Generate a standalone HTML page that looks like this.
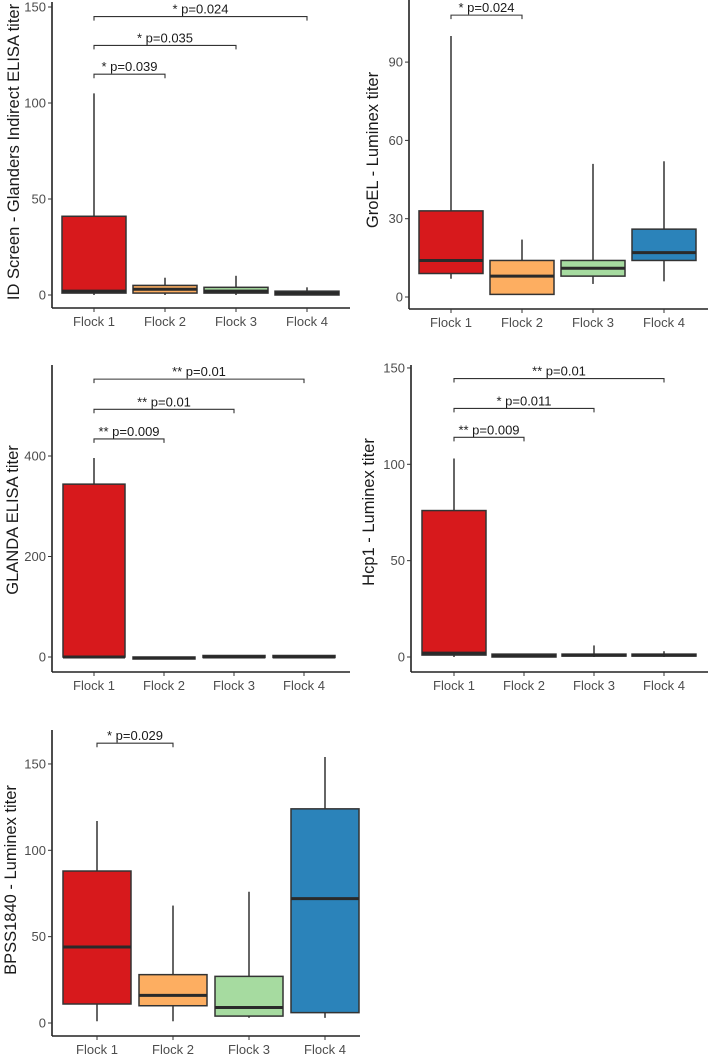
<!DOCTYPE html>
<html><head><meta charset="utf-8">
<style>
body{margin:0;background:#fff;}
svg{display:block;font-family:"Liberation Sans",Arial,sans-serif;}
.tick{fill:#4d4d4d;font-size:13px;}
.ytitle{fill:#1a1a1a;font-size:16.5px;}
.ann{fill:#1a1a1a;font-size:13px;}
</style></head>
<body>
<svg id="chart" width="708" height="1055" viewBox="0 0 708 1055" xmlns="http://www.w3.org/2000/svg"></svg>
<script>
const categories = ["Flock 1","Flock 2","Flock 3","Flock 4"];
const colors = ["#d7191c","#fdae61","#a6dba0","#2b83ba"];

// Panel 1: ID Screen
const p1Min = [0,0,0,0];
const p1Q1 = [1,1,1,0];
const p1Med = [2,3,2,1];
const p1Q3 = [41,5,4,2];
const p1Max = [105,9,10,4];
const p1Ticks = [0,50,100,150];
const p1Brackets = [[0,1,115,"* p=0.039"],[0,2,130,"* p=0.035"],[0,3,145,"* p=0.024"]];

// Panel 2: GroEL
const p2Min = [7,1,5,6];
const p2Q1 = [9,1,8,14];
const p2Med = [14,8,11,17];
const p2Q3 = [33,14,14,26];
const p2Max = [100,22,51,52];
const p2Ticks = [0,30,60,90];
const p2Brackets = [[0,1,108,"* p=0.024"]];

// Panel 3: GLANDA
const p3Min = [0,0,0,0];
const p3Q1 = [0,-2,0,0];
const p3Med = [0,-2,1,1];
const p3Q3 = [344,0,3,3];
const p3Max = [396,0,3,3];
const p3Ticks = [0,200,400];
const p3Brackets = [[0,1,434,"** p=0.009"],[0,2,493,"** p=0.01"],[0,3,553,"** p=0.01"]];

// Panel 4: Hcp1
const p4Min = [0,0,0,0];
const p4Q1 = [1,0,0.5,0.5];
const p4Med = [2,0.5,1,1];
const p4Q3 = [76,1.5,1.5,1.5];
const p4Max = [103,1.5,6,3];
const p4Ticks = [0,50,100,150];
const p4Brackets = [[0,1,114,"** p=0.009"],[0,2,129,"* p=0.011"],[0,3,144.5,"** p=0.01"]];

// Panel 5: BPSS1840
const p5Min = [1,1,3,3];
const p5Q1 = [11,10,4,6];
const p5Med = [44,16,9,72];
const p5Q3 = [88,28,27,124];
const p5Max = [117,68,76,154];
const p5Ticks = [0,50,100,150];
const p5Brackets = [[0,1,162,"* p=0.029"]];

const svg = document.getElementById('chart');
const NS = "http://www.w3.org/2000/svg";
function mk(tag, attrs, parent){
  const e = document.createElementNS(NS, tag);
  for (const k in attrs) e.setAttribute(k, attrs[k]);
  (parent||svg).appendChild(e);
  return e;
}

function panel(cfg){
  const g = mk('g', {});
  
  
  const y = v => cfg.y0 - (v - 0) * cfg.ppu;
  const x = i => cfg.x0c + i * cfg.step;
  const ya = mk('line', {x1:cfg.ax, x2:cfg.ax, y1:cfg.top, y2:cfg.axisY, stroke:'#222', 'stroke-width':1.6}, g);
  
  
  const xa = mk('line', {x1:cfg.ax, x2:cfg.right, y1:cfg.axisY, y2:cfg.axisY, stroke:'#222', 'stroke-width':1.6}, g);
  
  
  cfg.ticks.forEach(t => {
    mk('line', {x1:cfg.ax-4, x2:cfg.ax, y1:y(t), y2:y(t), stroke:'#333', 'stroke-width':1}, g);
    const tl = mk('text', {x:cfg.ax-6, y:y(t)+4.5, 'text-anchor':'end', class:'tick'}, g);
    tl.textContent = t;
    
    
  });
  categories.forEach((c,i) => {
    mk('line', {x1:x(i), x2:x(i), y1:cfg.axisY, y2:cfg.axisY+4, stroke:'#333', 'stroke-width':1}, g);
    const tl = mk('text', {x:x(i), y:cfg.axisY+18, 'text-anchor':'middle', class:'tick'}, g);
    tl.textContent = c;
    
    
  });
  const tt = mk('text', {x:0, y:0, 'text-anchor':'middle', class:'ytitle', transform:`translate(${cfg.titleX},${cfg.titleY}) rotate(-90)`}, g);
  tt.textContent = cfg.title;
  
  
  for (let i=0;i<categories.length;i++){
    const cx = x(i), hw = cfg.hw;
    const wl = mk('line', {x1:cx, x2:cx, y1:y(cfg.max[i]), y2:y(cfg.min[i]), stroke:'#333', 'stroke-width':1.5}, g);
    
    
    const hgt = Math.max(y(cfg.q1[i]) - y(cfg.q3[i]), 2);
    const b = mk('rect', {x:cx-hw, y:y(cfg.q3[i]), width:hw*2, height:hgt, fill:colors[i], stroke:'#333', 'stroke-width':1.5}, g);
    
    
    const md = mk('line', {x1:cx-hw, x2:cx+hw, y1:y(cfg.med[i]), y2:y(cfg.med[i]), stroke:'#2a2a2a', 'stroke-width':3}, g);
    
    
  }
  cfg.brackets.forEach(br => {
    const [a,b2,v,label] = br;
    const by = y(v);
    const p = mk('path', {d:`M${x(a)},${by+4}V${by}H${x(b2)}V${by+4}`, fill:'none', stroke:'#333', 'stroke-width':1.1}, g);
    
    
    const t = mk('text', {x:(x(a)+x(b2))/2, y:by-3, 'text-anchor':'middle', class:'ann'}, g);
    t.textContent = label;
    
    
  });
}

panel({name:'panel-id-screen', ax:52, right:350, top:2, axisY:308, y0:295, ppu:1.92, x0c:94, step:71, hw:32,
  ticks:p1Ticks, title:'ID Screen - Glanders Indirect ELISA titer', titleX:19, titleY:152,
  min:p1Min,q1:p1Q1,med:p1Med,q3:p1Q3,max:p1Max,brackets:p1Brackets});
panel({name:'panel-groel', ax:409, right:708, top:0, axisY:309, y0:297, ppu:2.61, x0c:451, step:71, hw:32,
  ticks:p2Ticks, title:'GroEL - Luminex titer', titleX:378, titleY:150,
  min:p2Min,q1:p2Q1,med:p2Med,q3:p2Q3,max:p2Max,brackets:p2Brackets});
panel({name:'panel-glanda', ax:52, right:350, top:365, axisY:672, y0:657, ppu:0.5025, x0c:94, step:70, hw:31,
  ticks:p3Ticks, title:'GLANDA ELISA titer', titleX:18, titleY:520,
  min:p3Min,q1:p3Q1,med:p3Q1,q3:p3Q3,max:p3Max,brackets:p3Brackets});
panel({name:'panel-hcp1', ax:411, right:708, top:365, axisY:672, y0:657, ppu:1.927, x0c:454, step:70, hw:32,
  ticks:p4Ticks, title:'Hcp1 - Luminex titer', titleX:374, titleY:512,
  min:p4Min,q1:p4Q1,med:p4Med,q3:p4Q3,max:p4Max,brackets:p4Brackets});
panel({name:'panel-bpss1840', ax:52, right:360, top:730, axisY:1036, y0:1023, ppu:1.727, x0c:97, step:76, hw:34,
  ticks:p5Ticks, title:'BPSS1840 - Luminex titer', titleX:16, titleY:880,
  min:p5Min,q1:p5Q1,med:p5Med,q3:p5Q3,max:p5Max,brackets:p5Brackets});
</script>
</body></html>
